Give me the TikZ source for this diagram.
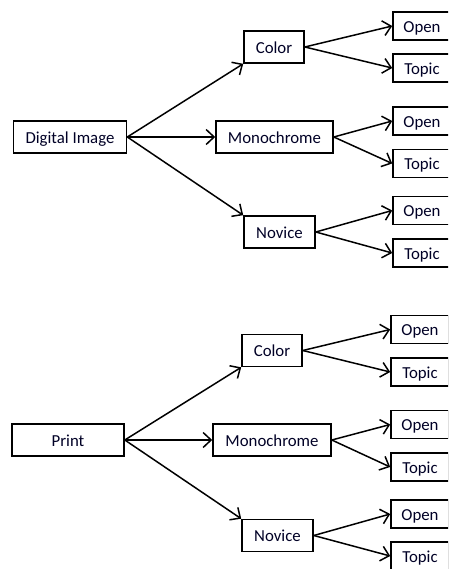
\documentclass[tikz,border=0pt]{standalone}
\usepackage{fontspec}
\setmainfont{Carlito}
\usetikzlibrary{arrows.meta}
\begin{document}
\begin{tikzpicture}[x=1pt,y=-1pt,
  box/.style={draw=black,line width=1.6pt,fill=white,inner sep=0pt,minimum height=32pt,text height=12.5pt,text depth=0pt,text=black!85!blue,font=\fontsize{16.8}{19}\selectfont},
  leaf/.style={box,minimum width=58pt,minimum height=28pt},
  conn/.style={line width=1.5pt,-{Straight Barb[length=8pt,width=15pt,line width=1.5pt]}}]
\useasboundingbox (0,0) rectangle (448,569);
\clip (0,0) rectangle (448,569);
% top tree
\node[box,minimum width=113pt] (di) at (70,137) {Digital Image};
\node[box,minimum width=60pt] (c1) at (274,47) {Color};
\node[box,minimum width=117pt] (m1) at (274.5,137) {Monochrome};
\node[box,minimum width=71pt] (n1) at (279.5,232) {Novice};
\node[leaf] (o1) at (422,26) {Open};
\node[leaf] (t1) at (422,68) {Topic};
\node[leaf] (o2) at (422,121) {Open};
\node[leaf] (t2) at (422,163.5) {Topic};
\node[leaf] (o3) at (422,210.5) {Open};
\node[leaf] (t3) at (422,253) {Topic};
\draw[conn] (di.east) -- (c1.south west);
\draw[conn] (di.east) -- (m1.west);
\draw[conn] (di.east) -- (n1.north west);
\draw[conn] (c1.east) -- (o1.west);
\draw[conn] (c1.east) -- (t1.west);
\draw[conn] (m1.east) -- (o2.west);
\draw[conn] (m1.east) -- (t2.west);
\draw[conn] (n1.east) -- (o3.west);
\draw[conn] (n1.east) -- (t3.west);
% bottom tree
\node[box,minimum width=112pt] (pr) at (68,440) {Print};
\node[box,minimum width=60pt] (c2) at (272,350.5) {Color};
\node[box,minimum width=118pt] (m2) at (272,440) {Monochrome};
\node[box,minimum width=71pt] (n2) at (277.5,535.5) {Novice};
\node[leaf] (o4) at (420,329.5) {Open};
\node[leaf] (t4) at (420,372) {Topic};
\node[leaf] (o5) at (420,424.5) {Open};
\node[leaf] (t5) at (420,467) {Topic};
\node[leaf] (o6) at (420,514) {Open};
\node[leaf] (t6) at (420,556) {Topic};
\draw[conn] (pr.east) -- (c2.south west);
\draw[conn] (pr.east) -- (m2.west);
\draw[conn] (pr.east) -- (n2.north west);
\draw[conn] (c2.east) -- (o4.west);
\draw[conn] (c2.east) -- (t4.west);
\draw[conn] (m2.east) -- (o5.west);
\draw[conn] (m2.east) -- (t5.west);
\draw[conn] (n2.east) -- (o6.west);
\draw[conn] (n2.east) -- (t6.west);
\end{tikzpicture}
\end{document}
